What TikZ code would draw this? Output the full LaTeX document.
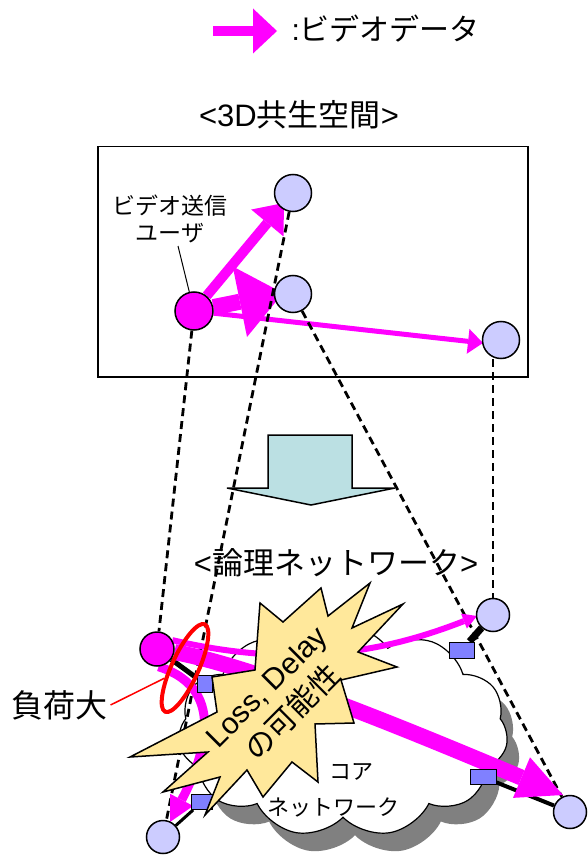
\documentclass[tikz,border=0pt]{standalone}
\usepackage{fontspec}
\setmainfont{Liberation Sans}
\newfontfamily\jp{Noto Sans CJK JP}
\usetikzlibrary{calc,shapes.geometric,shapes.symbols,shadows}
\definecolor{vidc}{RGB}{255,0,255}
\definecolor{nodec}{RGB}{204,204,255}
\definecolor{sqc}{RGB}{128,128,255}
\definecolor{starc}{RGB}{255,232,155}
\definecolor{blkc}{RGB}{187,224,227}
\definecolor{shadc}{RGB}{128,128,128}
\pgfdeclarelayer{bg}\pgfdeclarelayer{mid}\pgfdeclarelayer{front}
\pgfsetlayers{bg,mid,main,front}
% straight video arrow: line width, from, apex, head length, half head width
\newcommand{\vidline}[5]{%
  \path ($(#3)!#4pt!(#2)$) coordinate (hb);
  \draw[vid, line width=#1pt] (#2) -- (hb);
  \fill[vidc] (#3) -- ($(hb)!#5pt!90:(#3)$) -- ($(hb)!#5pt!-90:(#3)$) -- cycle;}
% curved video arrow: line width, from, c1, c2, apex, head length, half head width
\newcommand{\vidcurve}[7]{%
  \path ($(#5)!#6pt!(#4)$) coordinate (hb);
  \draw[vid, line width=#1pt] (#2) .. controls (#3) and (#4) .. (hb);
  \fill[vidc] (#5) -- ($(hb)!#7pt!90:(#5)$) -- ($(hb)!#7pt!-90:(#5)$) -- cycle;}
\begin{document}
\begin{tikzpicture}[x=1pt,y=-1pt,
  vid/.style={draw=vidc, line cap=butt},
  lnode/.style={circle, draw, line width=1.5pt, fill=nodec, minimum size=37pt, inner sep=0pt},
  snode/.style={lnode, minimum size=33pt},
  sq/.style={draw, line width=1pt, fill=sqc, inner sep=0pt},
  dsh/.style={dash pattern=on 8pt off 5pt, line width=2.8pt},
  link/.style={draw=black},
  blk/.style={draw, line width=1.5pt, fill=blkc, line join=miter}]
\useasboundingbox (0,0) rectangle (587,866);

% legend
\coordinate (legS) at (213,31);
\vidline{10.5}{legS}{277,31}{24}{22.5}
\node[anchor=west, font=\fontsize{30}{36}\selectfont] (legtxt) at (288,29) {:{\jp ビデオデータ}};

% 3D space
\node[font=\fontsize{31}{36}\selectfont] (t3d) at (299,115) {<3D{\jp 共生空間}>};
\node[draw, line width=1.5pt, minimum width=430pt, minimum height=230pt, anchor=north west, inner sep=0pt] (space) at (97,146) {};

\node[lnode] (top) at (293,193) {};
\node[lnode] (midn) at (293,294) {};
\node[lnode] (right) at (501,340) {};
\node[lnode, fill=vidc, minimum size=38pt] (src) at (194,311) {};

\node[font=\jp\fontsize{23}{27}\selectfont, align=center] (ulabel) at (170,219) {ビデオ送信\\ユーザ};
\draw[line width=1pt] (178,246) coordinate (ul) -- (src);

\begin{pgfonlayer}{mid}
\vidline{10}{src}{284,203}{26}{21}
\vidline{16}{src}{283,293}{44}{36}
\vidline{5}{src}{483,343}{15}{12.5}
\end{pgfonlayer}

% block arrow
\draw[blk] (268,435) -- (352,435) -- (352,488) -- (395,488) -- (311,505) -- (227,488) -- (268,488) -- cycle;

% logical network
\node[font=\fontsize{31}{36}\selectfont] (tlog) at (336,563) {<{\jp 論理ネットワーク}>};

\begin{pgfonlayer}{bg}
\node[cloud, cloud puffs=11, cloud puff arc=110, aspect=1.55, minimum width=330pt, minimum height=212pt, inner sep=0pt, draw, line width=1.2pt, fill=white, drop shadow={shadow xshift=12pt, shadow yshift=-18pt, fill=shadc, opacity=1}] (cloud) at (343,731) {};
\end{pgfonlayer}
\node[font=\jp\fontsize{22}{26}\selectfont] (core1) at (351,772) {コア};
\node[font=\jp\fontsize{22}{26}\selectfont] (core2) at (333,807) {ネットワーク};

\node[sq, minimum width=15pt, minimum height=17pt] (sq1) at (205,684) {};
\node[sq, minimum width=21pt, minimum height=15pt] (sq2) at (202,802) {};
\node[sq, minimum width=25pt, minimum height=16pt] (sq3) at (462,650) {};
\node[sq, minimum width=26pt, minimum height=15pt] (sq4) at (483,777) {};

\node[snode, fill=vidc, minimum size=34pt] (lsrc) at (157,649) {};
\node[snode] (ltr) at (493,615) {};
\node[snode] (lbr) at (570,812) {};
\node[snode] (lbl) at (163,837) {};

\begin{pgfonlayer}{mid}
\draw[link, line width=5pt] (lsrc) -- (sq1);
\draw[link, line width=3pt] (lbl) -- (sq2);
\draw[link, line width=7pt] (ltr) -- (sq3);
\draw[link, line width=4pt] (lbr) -- (sq4);
\draw[dsh] (src) -- (lsrc);
\draw[dsh] (top) -- (lbl);
\draw[dsh] (midn) -- (lbr);
\draw[dsh] (right.south -| ltr) -- (ltr.north);
\vidcurve{6}{lsrc.30}{300,670}{390,650}{477,616}{14}{8}
\vidcurve{16}{lsrc.-10}{260,668}{420,735}{563,795}{45}{22}
\vidcurve{9}{lsrc.-85}{232,690}{200,765}{170,822}{25}{13}
\end{pgfonlayer}

\begin{pgfonlayer}{front}
\draw[line width=1.5pt, fill=starc, line join=miter]
  (260,603) -- (283,622) -- (321,588) -- (328,616) -- (370,583) -- (352,628)
  -- (403,604) -- (358,652) -- (397,667) -- (341,680) -- (354,723) -- (315,724)
  -- (318,782) -- (292,762) -- (263,797) -- (247,770) -- (205,815) -- (220,777)
  -- (163,792) -- (208,752) -- (130,757) -- (217,712) -- (212,677) -- (255,670) -- cycle;
\node[rotate=45, align=center, font=\fontsize{30}{37}\selectfont] (startext) at (280,700) {Loss, Delay\\{\jp の可能性}};
\node[ellipse, draw=red, line width=4pt, minimum width=96pt, minimum height=27pt, inner sep=0pt, rotate=65.6] (ell) at (185,668) {};
\node[font=\jp\fontsize{32}{36}\selectfont] (load) at (59,705) {負荷大};
\draw[red, line width=1.5pt] (load.east) -- (ell);
\end{pgfonlayer}
\end{tikzpicture}
\end{document}
